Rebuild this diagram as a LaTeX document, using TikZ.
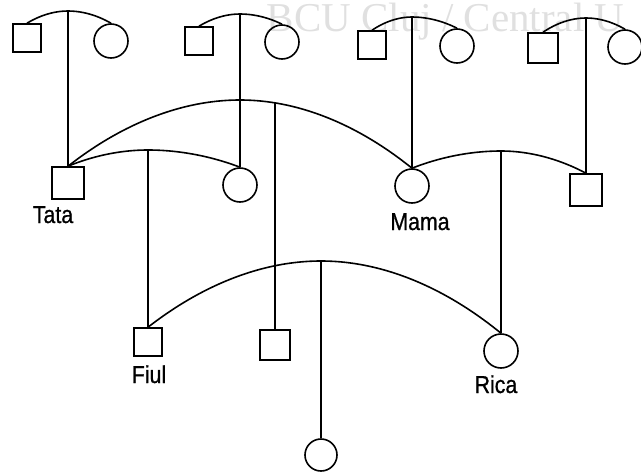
\documentclass[tikz,border=0pt]{standalone}
\usepackage{fontspec}
\newfontfamily\labfont[FakeStretch=0.87,FakeBold=0.8]{Liberation Sans}
\newfontfamily\wmfont{Liberation Serif}
\begin{document}
\begin{tikzpicture}[x=1pt,y=-1pt,
  line width=1.6pt,
  male/.style={draw,line width=1.6pt,minimum size=28pt,inner sep=0pt},
  female/.style={draw,line width=1.6pt,circle,minimum size=34pt,inner sep=0pt},
  lab/.style={anchor=base,inner sep=0pt,font=\labfont\fontsize{24.5}{24.5}\selectfont}]
\useasboundingbox (0,0) rectangle (641,472);
\node[anchor=base west,inner sep=0pt,text=black!12,font=\wmfont\fontsize{41}{41}\selectfont] (wm) at (266,31) {BCU Cluj / Central U};
% top generation
\node[male] (s1) at (27,38) {};
\node[female] (c1) at (111,41) {};
\node[male] (s2) at (199,41) {};
\node[female] (c2) at (282,42) {};
\node[male] (s3) at (372,45) {};
\node[female] (c3) at (457,46) {};
\node[male,minimum size=30pt] (s4) at (543,48) {};
\node[female] (c4) at (625,47) {};
% middle generation
\node[male,minimum size=32pt] (tata) at (68,183) {};
\node[female] (c5) at (240,185) {};
\node[female] (mama) at (412,186) {};
\node[male,minimum size=32pt] (s6) at (586,190) {};
% lower generation
\node[male] (fiul) at (148,342) {};
\node[male,minimum size=30pt] (s7) at (275,345) {};
\node[female] (rica) at (501,351) {};
\node[female,minimum size=32pt] (ch) at (321,455) {};
% labels
\node[lab] (ltata) at (53,223) {Tata};
\node[lab] (lmama) at (420,230) {Mama};
\node[lab] (lfiul) at (149,383) {Fiul};
\node[lab] (lrica) at (496,393) {Rica};
% peaks
\coordinate (p1) at (68,11);
\coordinate (p2) at (240,14);
\coordinate (p3) at (412,17);
\coordinate (p4) at (586,18);
\coordinate (p5) at (240,100);
\coordinate (p6) at (148,150);
\coordinate (p7) at (501,151);
\coordinate (p8) at (321,261);
\coordinate (v5) at (275,103);
% marriage arcs
\draw (s1.north) parabola bend (p1) (c1.north);
\draw (s2.north) parabola bend (p2) (c2.north);
\draw (s3.north) parabola bend (p3) (c3.north);
\draw (s4.north) parabola bend (p4) (c4.north);
\draw (tata.north) parabola bend (p5) (mama.north);
\draw (tata.north) parabola bend (p6) (c5.north);
\draw (mama.north) parabola bend (p7) (s6.north);
\draw (fiul.north) parabola bend (p8) (rica.north);
% descent lines
\draw (p1) -- (tata.north);
\draw (p2) -- (c5.north);
\draw (p3) -- (mama.north);
\draw (p4) -- (s6.north);
\draw (v5) -- (s7.north);
\draw (p6) -- (fiul.north);
\draw (p7) -- (rica.north);
\draw (p8) -- (ch.north);
\end{tikzpicture}
\end{document}
